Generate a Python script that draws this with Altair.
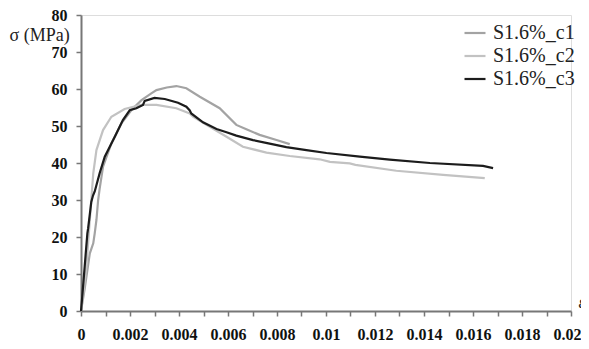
import altair as alt
import pandas as pd

series_names = ["S1.6%_c1", "S1.6%_c2", "S1.6%_c3"]
series_colors = ["#a3a3a3", "#c2c2c2", "#1c1c1c"]

c1_x = [0, 0.00015, 0.00036, 0.0005, 0.00056, 0.00063, 0.0007, 0.00076, 0.0009, 0.00124, 0.00165,
        0.00206, 0.00247, 0.00287, 0.00308, 0.0035, 0.00389, 0.00403, 0.0043, 0.00485, 0.00566,
        0.00634, 0.00675, 0.00729, 0.00798, 0.00852]
c1_y = [0, 6, 15.6, 18.3, 21, 24.6, 30, 33, 39, 45.3, 50.7,
        54.3, 57, 58.8, 59.7, 60.4, 60.8, 60.6, 60.2, 57.9, 54.8,
        50.3, 49.1, 47.6, 46.2, 45.1]

c2_x = [0, 0.0001, 0.00022, 0.00029, 0.00036, 0.00042, 0.0005, 0.00063, 0.0009, 0.00124, 0.00178,
        0.00246, 0.00308, 0.00389, 0.00444, 0.00457, 0.00512, 0.00594, 0.00661, 0.00757, 0.00852,
        0.00974, 0.01016, 0.01097, 0.0112, 0.01287, 0.01478, 0.01648]
c2_y = [0, 5, 12, 18.3, 24.6, 30, 37.2, 43.5, 48.9, 52.5, 54.6,
        55.7, 55.7, 54.8, 53.4, 52.5, 50.3, 47.1, 44.4, 42.8, 41.9,
        41.0, 40.3, 39.9, 39.5, 37.9, 36.8, 35.9]

c3_x = [0, 0.00004, 0.00015, 0.00026, 0.00029, 0.00042, 0.00049, 0.00056, 0.00076, 0.00097, 0.00138,
        0.00171, 0.00199, 0.00226, 0.00253, 0.0026, 0.003, 0.00342, 0.00396, 0.0043, 0.00444,
        0.0045, 0.00498, 0.00553, 0.00594, 0.00634, 0.00702, 0.00765, 0.00838, 0.0092, 0.01002,
        0.01138, 0.0126, 0.01424, 0.01641, 0.01682]
c3_y = [0, 3, 12, 21, 22.3, 29.5, 31.2, 32.3, 37.2, 41.7, 47.1,
        51.6, 54.3, 54.8, 55.7, 56.8, 57.6, 57.3, 56.3, 55.2, 54.2,
        53.4, 51.0, 49.2, 48.3, 47.4, 46.2, 45.3, 44.3, 43.5, 42.7,
        41.7, 40.9, 40.0, 39.2, 38.6]

x_ticks = [round(i * 0.001, 3) for i in range(21)]
y_ticks = [0, 10, 20, 30, 40, 50, 60, 70, 80]

rows = []
for name, xs, ys in zip(series_names, [c1_x, c2_x, c3_x], [c1_y, c2_y, c3_y]):
    for i, (xv, yv) in enumerate(zip(xs, ys)):
        rows.append({"series": name, "strain": xv, "stress": yv, "idx": i})
df = pd.DataFrame(rows)

serif = "Liberation Serif"

chart = alt.Chart(df).mark_line(strokeWidth=2.2).encode(
    x=alt.X("strain:Q",
            scale=alt.Scale(domain=[0, 0.02], nice=False, zero=False),
            axis=alt.Axis(values=x_ticks, grid=False, title="ε",
                          labelExpr="round(datum.value*1000) % 2 == 0 ? format(datum.value, '~g') : ''",
                          labelFont=serif, labelFontWeight="bold", labelFontSize=16,
                          labelColor="#111", labelPadding=10, labelFlush=False,
                          labelAlign={"condition": {"test": "datum.value >= 0.0195", "value": "right"},
                                      "value": "center"},
                          labelOffset={"condition": {"test": "datum.value >= 0.0195", "value": 10},
                                       "value": 0},
                          domainColor="#777", domainWidth=2, tickColor="#777", tickWidth=1.5,
                          tickSize=5,
                          titleFont=serif, titleFontStyle="italic", titleFontWeight="normal",
                          titleFontSize=18, titleColor="#222",
                          titleX=497, titleY=-9, titleAlign="left", titleBaseline="middle")),
    y=alt.Y("stress:Q",
            scale=alt.Scale(domain=[0, 80], nice=False),
            axis=alt.Axis(values=y_ticks, grid=False, title="σ (MPa)",
                          labelFont=serif, labelFontWeight="bold", labelFontSize=16,
                          labelColor="#111", labelPadding=9, labelFlush=False,
                          domainColor="#777", domainWidth=2, tickColor="#777", tickWidth=1.5,
                          tickSize=5,
                          titleFont=serif, titleFontWeight="normal", titleFontSize=18,
                          titleColor="#222", titleAngle=0,
                          titleX=-72, titleY=20, titleAlign="left", titleBaseline="middle")),
    color=alt.Color("series:N",
                    scale=alt.Scale(domain=series_names, range=series_colors),
                    legend=alt.Legend(title=None, orient="none", legendX=382, legendY=6,
                                      symbolType="stroke", symbolSize=441,
                                      symbolStrokeWidth=2.2,
                                      labelFont=serif, labelFontSize=20, labelColor="#222",
                                      labelOffset=6, rowPadding=1)),
    order=alt.Order("idx:Q"),
).properties(
    width=490, height=296,
    autosize=alt.AutoSizeParams(type="none"),
    padding={"left": 73, "top": 7, "right": 10, "bottom": 30},
).configure_view(stroke=None).configure(background="white")

chart.save("out.html", embed_options={"renderer": "svg", "actions": False})
